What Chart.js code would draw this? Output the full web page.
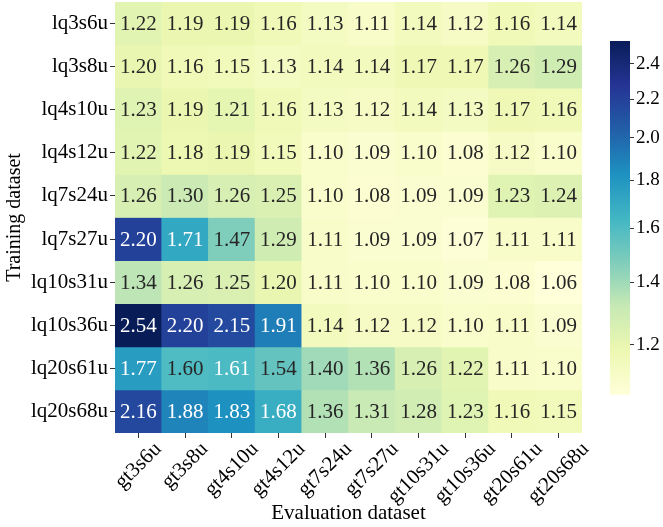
<!DOCTYPE html>
<html>
<head>
<meta charset="utf-8">
<script src="https://cdn.jsdelivr.net/npm/chart.js@4/dist/chart.umd.min.js"></script>
<style>
  html, body { margin: 0; padding: 0; background: #ffffff; }
  #wrap { position: relative; width: 663px; height: 527px; }
  #main { position: absolute; left: 0; top: 0; }
  #cbar { position: absolute; left: 600px; top: 0; }
</style>
</head>
<body>
<div id="wrap">
  <canvas id="main" width="663" height="527"></canvas>
  <canvas id="cbar" width="63" height="527"></canvas>
</div>
<script>
// ---- data ----
const rows = ['lq3s6u', 'lq3s8u', 'lq4s10u', 'lq4s12u', 'lq7s24u', 'lq7s27u', 'lq10s31u', 'lq10s36u', 'lq20s61u', 'lq20s68u'];
const cols = ['gt3s6u', 'gt3s8u', 'gt4s10u', 'gt4s12u', 'gt7s24u', 'gt7s27u', 'gt10s31u', 'gt10s36u', 'gt20s61u', 'gt20s68u'];
const row_lq3s6u   = [1.22, 1.19, 1.19, 1.16, 1.13, 1.11, 1.14, 1.12, 1.16, 1.14];
const row_lq3s8u   = [1.20, 1.16, 1.15, 1.13, 1.14, 1.14, 1.17, 1.17, 1.26, 1.29];
const row_lq4s10u  = [1.23, 1.19, 1.21, 1.16, 1.13, 1.12, 1.14, 1.13, 1.17, 1.16];
const row_lq4s12u  = [1.22, 1.18, 1.19, 1.15, 1.10, 1.09, 1.10, 1.08, 1.12, 1.10];
const row_lq7s24u  = [1.26, 1.30, 1.26, 1.25, 1.10, 1.08, 1.09, 1.09, 1.23, 1.24];
const row_lq7s27u  = [2.20, 1.71, 1.47, 1.29, 1.11, 1.09, 1.09, 1.07, 1.11, 1.11];
const row_lq10s31u = [1.34, 1.26, 1.25, 1.20, 1.11, 1.10, 1.10, 1.09, 1.08, 1.06];
const row_lq10s36u = [2.54, 2.20, 2.15, 1.91, 1.14, 1.12, 1.12, 1.10, 1.11, 1.09];
const row_lq20s61u = [1.77, 1.60, 1.61, 1.54, 1.40, 1.36, 1.26, 1.22, 1.11, 1.10];
const row_lq20s68u = [2.16, 1.88, 1.83, 1.68, 1.36, 1.31, 1.28, 1.23, 1.16, 1.15];
const values = [row_lq3s6u, row_lq3s8u, row_lq4s10u, row_lq4s12u, row_lq7s24u,
                row_lq7s27u, row_lq10s31u, row_lq10s36u, row_lq20s61u, row_lq20s68u];
const cbTicks = [1.2, 1.4, 1.6, 1.8, 2.0, 2.2, 2.4];

// ---- colour map (YlGnBu, log norm) ----
const cmap = ['#ffffd9', '#edf8b1', '#c7e9b4', '#7fcdbb', '#41b6c4', '#1d91c0', '#225ea8', '#253494', '#081d58'];
const flat = values.flat();
const vmin = Math.min(...flat), vmax = Math.max(...flat);
function hex2rgb(h) { return [parseInt(h.slice(1,3),16), parseInt(h.slice(3,5),16), parseInt(h.slice(5,7),16)]; }
const cmapRGB = cmap.map(hex2rgb);
function rgbAt(t) {
  t = Math.max(0, Math.min(1, t));
  const s = t * (cmapRGB.length - 1);
  const i = Math.min(Math.floor(s), cmapRGB.length - 2);
  const f = s - i;
  const a = cmapRGB[i], b = cmapRGB[i + 1];
  return [0,1,2].map(k => Math.round(a[k] + (b[k] - a[k]) * f));
}
function norm(v) { return Math.log(v / vmin) / Math.log(vmax / vmin); }
function colorOf(v) { const c = rgbAt(norm(v)); return `rgb(${c[0]},${c[1]},${c[2]})`; }
function textColorOf(v) {
  const c = rgbAt(norm(v)).map(x => x / 255).map(x => x <= 0.03928 ? x / 12.92 : Math.pow((x + 0.055) / 1.055, 2.4));
  const lum = 0.2126 * c[0] + 0.7152 * c[1] + 0.0722 * c[2];
  return lum > 0.408 ? '#262626' : '#ffffff';
}

const SERIF = '"Liberation Serif", "Times New Roman", serif';

// ---- plugins ----
const cellText = {
  id: 'cellText',
  afterDatasetsDraw(chart) {
    const ctx = chart.ctx;
    ctx.save();
    ctx.font = `21px ${SERIF}`;
    ctx.textAlign = 'center';
    ctx.textBaseline = 'middle';
    chart.data.datasets.forEach((ds, i) => {
      const meta = chart.getDatasetMeta(i);
      meta.data.forEach((el, j) => {
        const v = values[i][j];
        ctx.fillStyle = textColorOf(v);
        ctx.fillText(v.toFixed(2), el.x, (el.y + el.base) / 2 + 1);
      });
    });
    ctx.restore();
  }
};

const xLabels = {
  id: 'xLabels',
  afterDraw(chart) {
    const ctx = chart.ctx;
    const sx = chart.scales.x;
    const top = chart.chartArea.bottom + 8;
    ctx.save();
    ctx.font = `21px ${SERIF}`;
    ctx.fillStyle = '#000000';
    ctx.textAlign = 'center';
    ctx.textBaseline = 'middle';
    const h = 14;
    cols.forEach((c, j) => {
      const x = sx.getPixelForTick(j);
      const w = ctx.measureText(c).width;
      const cy = top + (w + h) * Math.SQRT1_2 / 2;
      ctx.save();
      ctx.translate(x, cy);
      ctx.rotate(-Math.PI / 4);
      ctx.fillText(c, 0, 0);
      ctx.restore();
    });
    ctx.restore();
  }
};

// ---- heatmap ----
new Chart(document.getElementById('main'), {
  type: 'bar',
  data: {
    labels: cols,
    datasets: rows.map((r, i) => ({
      label: r,
      data: cols.map(() => [i, i + 1]),
      backgroundColor: values[i].map(colorOf),
      borderWidth: 0,
      borderSkipped: false,
      barPercentage: 1,
      categoryPercentage: 1
    }))
  },
  options: {
    responsive: false,
    animation: false,
    devicePixelRatio: 1,
    layout: { padding: { left: 0, right: 81, top: 2, bottom: 0 } },
    plugins: { legend: { display: false }, tooltip: { enabled: false } },
    scales: {
      x: {
        type: 'category',
        stacked: true,
        offset: true,
        border: { display: false },
        grid: { display: true, drawOnChartArea: false, drawTicks: true, tickLength: 5, offset: false, color: '#333333', lineWidth: 1 },
        ticks: { display: false },
        title: { display: true, text: 'Evaluation dataset', color: '#000000', font: { family: SERIF, size: 21 }, padding: { top: 0, bottom: 1 } },
        afterFit(scale) { scale.height = 94; scale.paddingLeft = 0; scale.paddingRight = 0; }
      },
      y: {
        type: 'linear',
        stacked: false,
        min: 0,
        max: 10,
        reverse: true,
        border: { display: false },
        grid: { display: true, drawOnChartArea: false, drawTicks: true, tickLength: 5, color: '#333333', lineWidth: 1 },
        afterBuildTicks(scale) { scale.ticks = rows.map((r, i) => ({ value: i + 0.5 })); },
        ticks: {
          color: '#000000',
          padding: 2,
          font: { family: SERIF, size: 21 },
          callback: (v) => rows[Math.round(v - 0.5)]
        },
        title: { display: true, text: 'Training dataset', color: '#000000', font: { family: SERIF, size: 20 }, padding: { top: 3, bottom: 0 } },
        afterFit(scale) { scale.width = 115; scale.paddingTop = 0; scale.paddingBottom = 0; }
      }
    }
  },
  plugins: [cellText, xLabels]
});

// ---- colour bar ----
new Chart(document.getElementById('cbar'), {
  type: 'bar',
  data: {
    labels: ['scale'],
    datasets: [{
      data: [[vmin, vmax]],
      borderWidth: 0,
      borderSkipped: false,
      barPercentage: 1,
      categoryPercentage: 1,
      backgroundColor(context) {
        const { ctx, chartArea } = context.chart;
        if (!chartArea) return cmap[4];
        const g = ctx.createLinearGradient(0, chartArea.bottom, 0, chartArea.top);
        cmap.forEach((c, k) => g.addColorStop(k / (cmap.length - 1), c));
        return g;
      }
    }]
  },
  options: {
    responsive: false,
    animation: false,
    devicePixelRatio: 1,
    layout: { padding: { left: 10, right: 0, top: 41, bottom: 132 } },
    plugins: { legend: { display: false }, tooltip: { enabled: false } },
    scales: {
      x: { display: false, offset: true },
      y: {
        type: 'logarithmic',
        position: 'right',
        min: vmin,
        max: vmax,
        border: { display: false },
        grid: { display: true, drawOnChartArea: false, drawTicks: true, tickLength: 4, color: '#333333', lineWidth: 1 },
        afterBuildTicks(scale) { scale.ticks = cbTicks.map(v => ({ value: v })); },
        ticks: {
          color: '#000000',
          padding: 2,
          font: { family: SERIF, size: 19 },
          callback: (v) => Number(v).toFixed(1)
        },
        afterFit(scale) { scale.width = 33; scale.paddingTop = 0; scale.paddingBottom = 0; }
      }
    }
  }
});
</script>
</body>
</html>
